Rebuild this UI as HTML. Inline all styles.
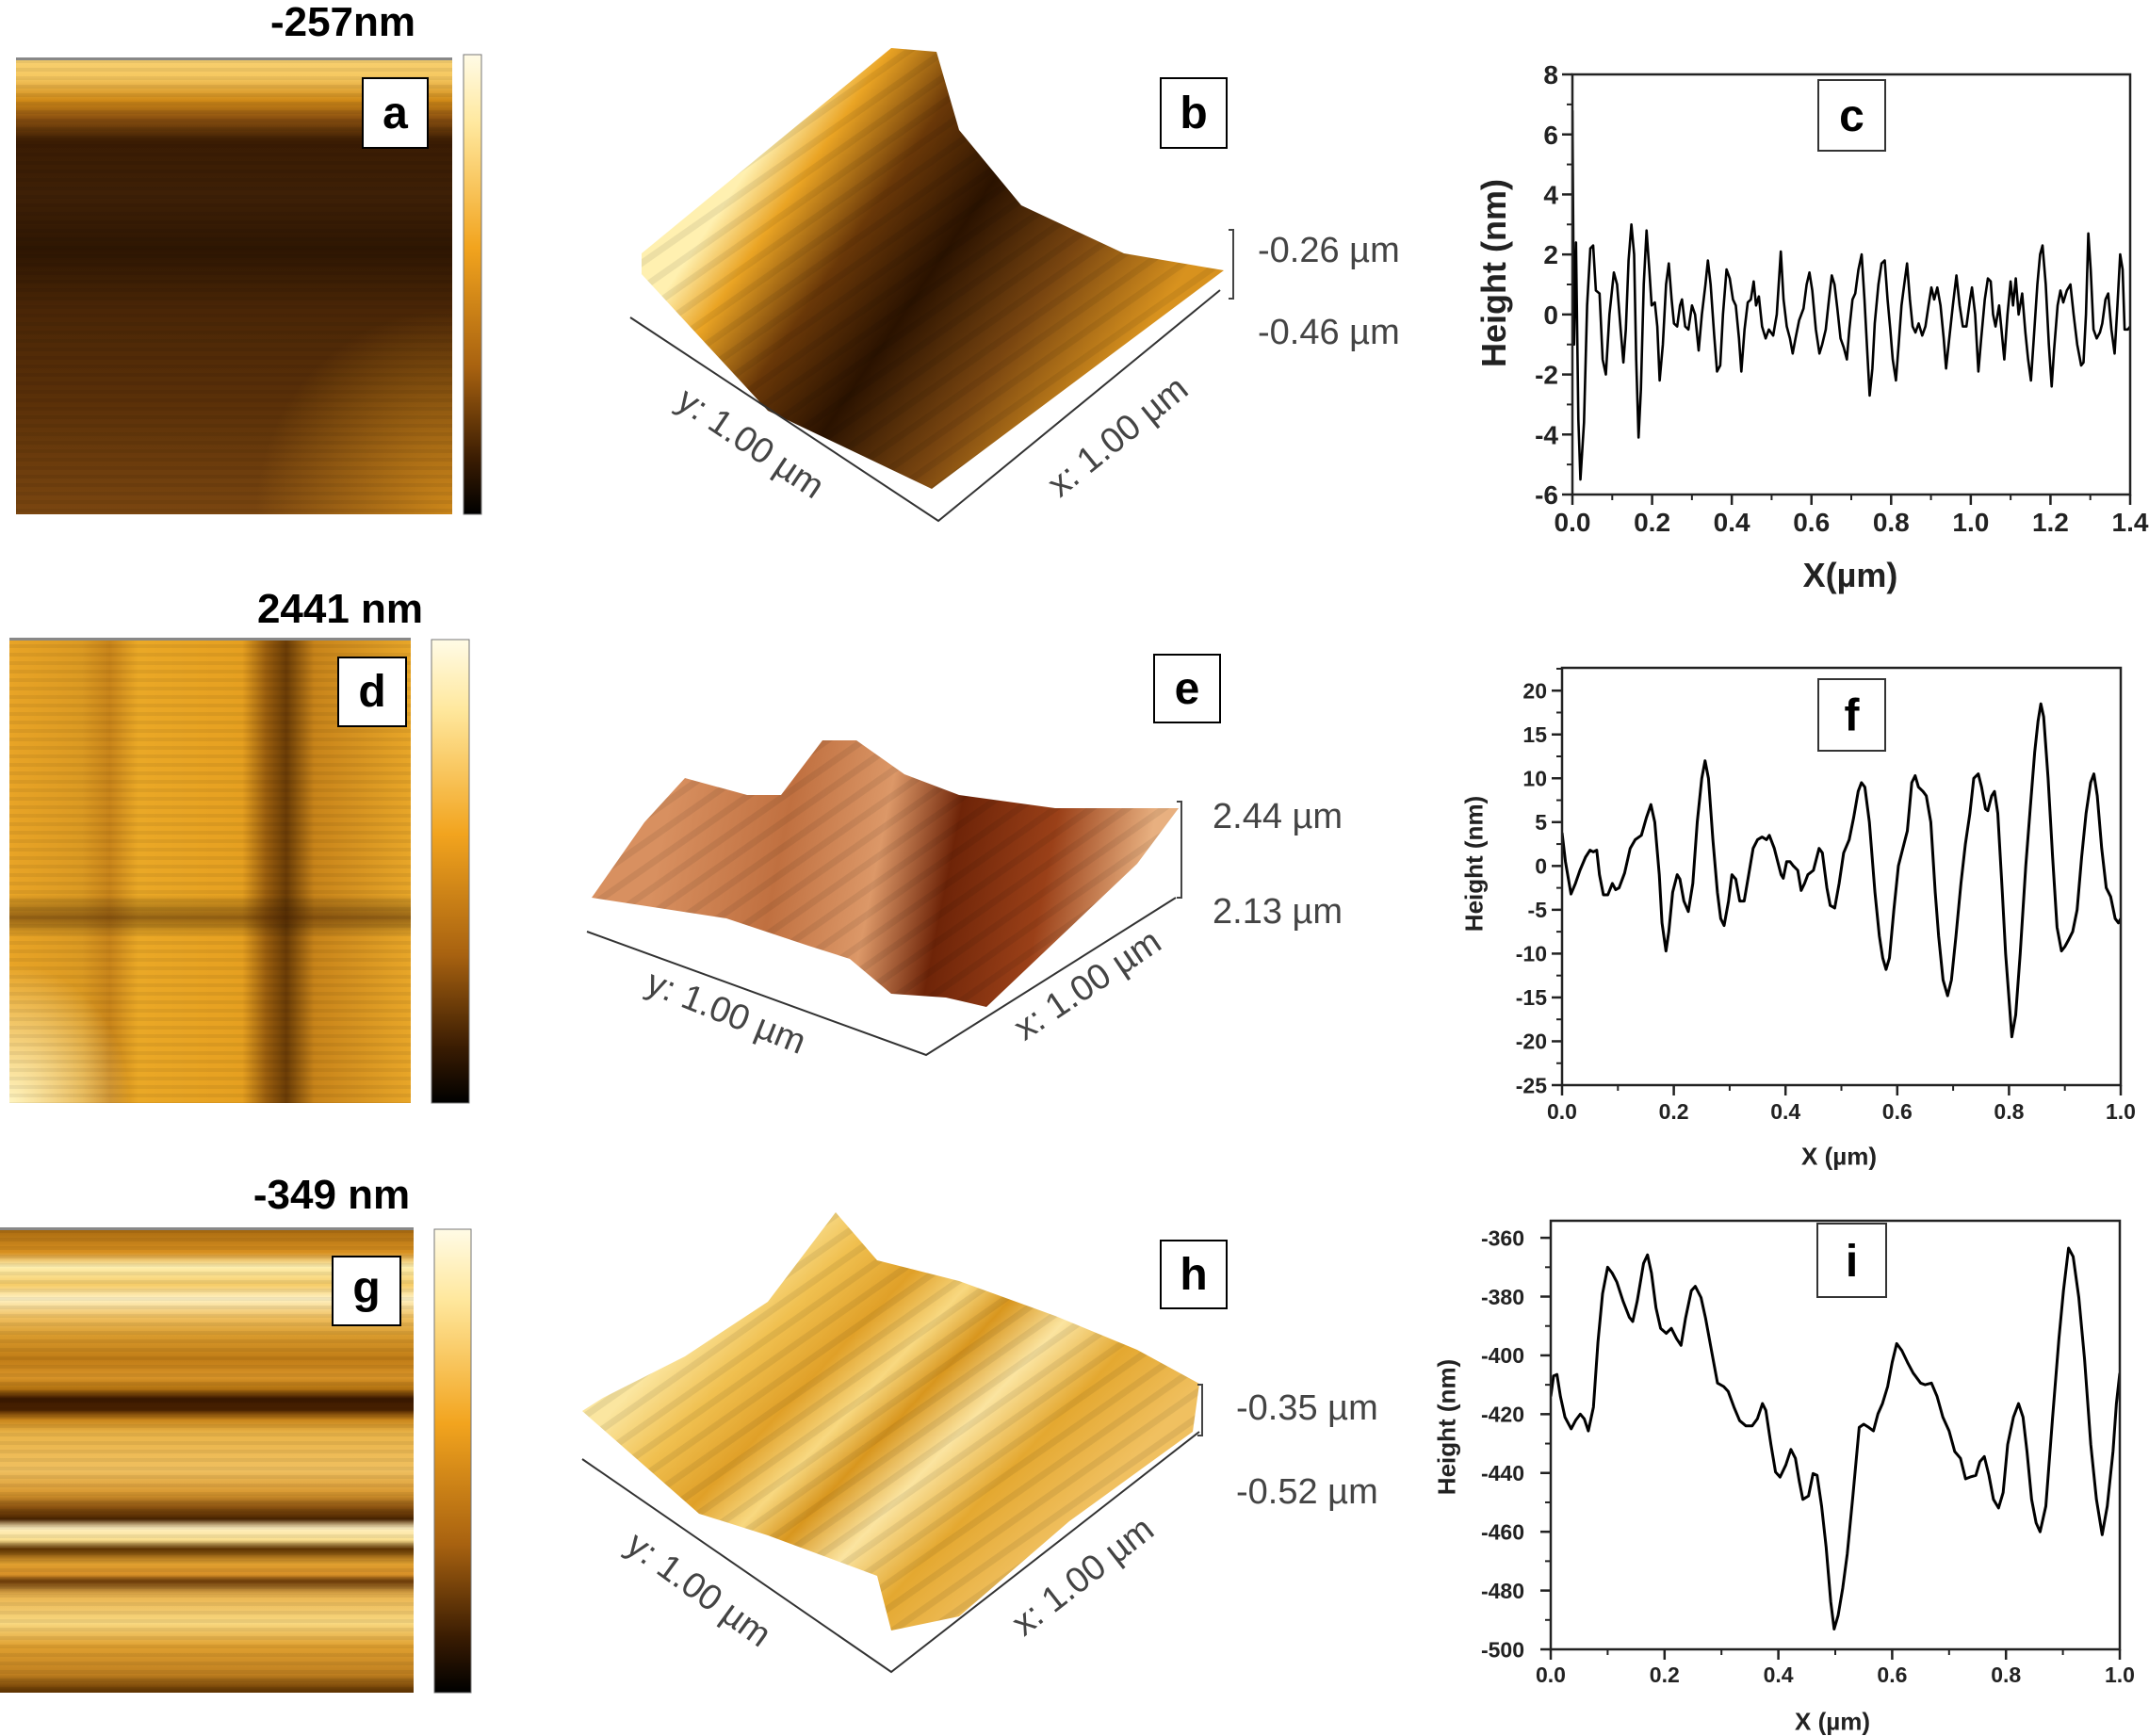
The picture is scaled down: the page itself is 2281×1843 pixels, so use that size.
<!DOCTYPE html>
<html><head><meta charset="utf-8"><title>AFM figure</title>
<style>
html,body{margin:0;padding:0;background:#fff;}
svg{display:block;}
text{font-family:"Liberation Sans",Arial,sans-serif;}
</style></head>
<body>
<svg id="fig" width="2281" height="1843" viewBox="0 0 2281 1843" xmlns="http://www.w3.org/2000/svg">
<defs>
  <linearGradient id="cbar" x1="0" y1="0" x2="0" y2="1">
    <stop offset="0" stop-color="#fffbe6"/><stop offset="0.15" stop-color="#ffe89e"/>
    <stop offset="0.42" stop-color="#f2a41e"/><stop offset="0.68" stop-color="#a86210"/>
    <stop offset="0.88" stop-color="#3a1c02"/><stop offset="1" stop-color="#000"/>
  </linearGradient>
  <linearGradient id="gA" x1="0" y1="0" x2="0" y2="1">
    <stop offset="0" stop-color="#f7d070"/><stop offset="0.04" stop-color="#f6c860"/>
    <stop offset="0.09" stop-color="#d08a18"/><stop offset="0.13" stop-color="#8a5010"/>
    <stop offset="0.18" stop-color="#3a1c03"/><stop offset="0.3" stop-color="#3e2006"/>
    <stop offset="0.42" stop-color="#2e1602"/><stop offset="0.55" stop-color="#4a2606"/>
    <stop offset="0.75" stop-color="#5a3008"/><stop offset="1" stop-color="#7a4610"/>
  </linearGradient>
  <radialGradient id="gA2" cx="1" cy="1" r="0.45">
    <stop offset="0" stop-color="#d08a1a" stop-opacity="0.95"/><stop offset="1" stop-color="#d08a1a" stop-opacity="0"/>
  </radialGradient>
  <linearGradient id="gD" x1="0" y1="0" x2="1" y2="0">
    <stop offset="0" stop-color="#e8a426"/><stop offset="0.18" stop-color="#dc9a22"/>
    <stop offset="0.25" stop-color="#c8841a"/><stop offset="0.32" stop-color="#eaa826"/>
    <stop offset="0.58" stop-color="#e6a020"/><stop offset="0.64" stop-color="#9a5e0e"/>
    <stop offset="0.69" stop-color="#6a3c06"/><stop offset="0.76" stop-color="#c8841a"/>
    <stop offset="1" stop-color="#e8a628"/>
  </linearGradient>
  <linearGradient id="gDh" x1="0" y1="0" x2="0" y2="1">
    <stop offset="0" stop-color="#000" stop-opacity="0"/><stop offset="0.55" stop-color="#000" stop-opacity="0"/>
    <stop offset="0.6" stop-color="#3a1800" stop-opacity="0.45"/><stop offset="0.64" stop-color="#000" stop-opacity="0"/>
    <stop offset="1" stop-color="#000" stop-opacity="0"/>
  </linearGradient>
  <radialGradient id="gD2" cx="0" cy="1" r="0.3">
    <stop offset="0" stop-color="#fff4c0"/><stop offset="1" stop-color="#fff4c0" stop-opacity="0"/>
  </radialGradient>
  <linearGradient id="gG" x1="0" y1="0" x2="0" y2="1">
    <stop offset="0" stop-color="#a86a10"/><stop offset="0.05" stop-color="#d89020"/>
    <stop offset="0.08" stop-color="#fff0b0"/><stop offset="0.12" stop-color="#f6cc68"/>
    <stop offset="0.15" stop-color="#fff2c4"/><stop offset="0.19" stop-color="#f0c060"/>
    <stop offset="0.23" stop-color="#d89a2c"/><stop offset="0.28" stop-color="#c07c16"/>
    <stop offset="0.32" stop-color="#d89428"/><stop offset="0.345" stop-color="#b07010"/>
    <stop offset="0.365" stop-color="#3a1800"/><stop offset="0.39" stop-color="#4a2200"/>
    <stop offset="0.41" stop-color="#c8841a"/><stop offset="0.44" stop-color="#eab448"/>
    <stop offset="0.52" stop-color="#f0c060"/><stop offset="0.57" stop-color="#d89830"/>
    <stop offset="0.6" stop-color="#8a5210"/><stop offset="0.625" stop-color="#4a2400"/>
    <stop offset="0.645" stop-color="#fff0c0"/><stop offset="0.67" stop-color="#fbe090"/>
    <stop offset="0.69" stop-color="#5a3000"/><stop offset="0.72" stop-color="#e0a030"/>
    <stop offset="0.745" stop-color="#d89028"/><stop offset="0.76" stop-color="#6a3a08"/>
    <stop offset="0.79" stop-color="#eab450"/><stop offset="0.85" stop-color="#f8d880"/>
    <stop offset="0.9" stop-color="#e0a030"/><stop offset="0.96" stop-color="#c08020"/>
    <stop offset="1" stop-color="#5a3000"/>
  </linearGradient>
  <pattern id="stripes" width="8" height="9" patternUnits="userSpaceOnUse">
    <rect width="8" height="4" fill="#000" fill-opacity="0.06"/>
  </pattern>
  <linearGradient id="gB" gradientUnits="userSpaceOnUse" x1="800" y1="170" x2="1170" y2="420">
    <stop offset="0" stop-color="#fff0b0"/><stop offset="0.12" stop-color="#eaa424"/>
    <stop offset="0.3" stop-color="#6a3808"/><stop offset="0.5" stop-color="#2a1200"/>
    <stop offset="0.75" stop-color="#7a4610"/><stop offset="1" stop-color="#d8921e"/>
  </linearGradient>
  <linearGradient id="gE" gradientUnits="userSpaceOnUse" x1="700" y1="900" x2="1200" y2="1000">
    <stop offset="0" stop-color="#d89060"/><stop offset="0.25" stop-color="#c07040"/>
    <stop offset="0.45" stop-color="#dc9868"/><stop offset="0.6" stop-color="#6e2408"/>
    <stop offset="0.8" stop-color="#9a4018"/><stop offset="1" stop-color="#e8b080"/>
  </linearGradient>
  <linearGradient id="gH" gradientUnits="userSpaceOnUse" x1="760" y1="1380" x2="1080" y2="1680">
    <stop offset="0" stop-color="#fbe6a0"/><stop offset="0.15" stop-color="#f0c050"/>
    <stop offset="0.3" stop-color="#e0a028"/><stop offset="0.42" stop-color="#f8d880"/>
    <stop offset="0.52" stop-color="#d8961e"/><stop offset="0.65" stop-color="#fbe4a0"/>
    <stop offset="0.8" stop-color="#e4a830"/><stop offset="1" stop-color="#f0c060"/>
  </linearGradient>
  <pattern id="diag" width="22" height="22" patternUnits="userSpaceOnUse" patternTransform="rotate(-35)">
    <rect width="22" height="7" fill="#000" fill-opacity="0.07"/>
  </pattern>
</defs>

<!-- Row 1 -->
<text x="364" y="38" font-size="44" font-weight="bold" text-anchor="middle">-257nm</text>
<g>
  <rect x="17" y="63" width="463" height="483" fill="url(#gA)"/>
  <rect x="17" y="63" width="463" height="483" fill="url(#gA2)"/>
  <rect x="17" y="63" width="463" height="483" fill="url(#stripes)"/>
  <rect x="17" y="61" width="463" height="3" fill="#888"/>
</g>
<rect x="492" y="58" width="19" height="488" fill="url(#cbar)" stroke="#777" stroke-width="1"/>
<g><rect x="385" y="83" width="69" height="74" fill="#fff" stroke="#000" stroke-width="2"/><text x="419.5" y="136" font-size="48" font-weight="bold" text-anchor="middle">a</text></g>

<g>
  <polygon points="681,269 946,51 994,55 1018,138 1084,218 1193,269 1299,287 989,519 815,436 681,291" fill="url(#gB)"/>
  <polygon points="681,269 946,51 994,55 1018,138 1084,218 1193,269 1299,287 989,519 815,436 681,291" fill="url(#diag)"/>
  <polyline points="669,337 996,553 1295,308" fill="none" stroke="#333" stroke-width="2"/>
  <polyline points="1304,244 1309,244 1309,317 1304,317" fill="none" stroke="#444" stroke-width="2"/>
  <text x="1335" y="278" font-size="38" fill="#444">-0.26 µm</text>
  <text x="1335" y="365" font-size="38" fill="#444">-0.46 µm</text>
  <text transform="translate(797,470) rotate(34)" font-size="38" fill="#444" text-anchor="middle" dy="13">y: 1.00 µm</text>
  <text transform="translate(1186,463) rotate(-39)" font-size="38" fill="#444" text-anchor="middle" dy="13">x: 1.00 µm</text>
</g>
<g><rect x="1232" y="83" width="70" height="74" fill="#fff" stroke="#000" stroke-width="2"/><text x="1267" y="136" font-size="48" font-weight="bold" text-anchor="middle">b</text></g>

<!-- Row 2 -->
<text x="361" y="661" font-size="44" font-weight="bold" text-anchor="middle">2441 nm</text>
<g>
  <rect x="10" y="679" width="426" height="492" fill="url(#gD)"/>
  <rect x="10" y="679" width="426" height="492" fill="url(#gDh)"/>
  <rect x="10" y="679" width="426" height="492" fill="url(#gD2)"/>
  <rect x="10" y="679" width="426" height="492" fill="url(#stripes)"/>
  <rect x="10" y="677" width="426" height="3" fill="#888"/>
</g>
<rect x="458" y="679" width="40" height="492" fill="url(#cbar)" stroke="#777" stroke-width="1"/>
<g><rect x="359" y="698" width="72" height="73" fill="#fff" stroke="#000" stroke-width="2"/><text x="395" y="750" font-size="48" font-weight="bold" text-anchor="middle">d</text></g>

<g>
  <polygon points="628,953 684,873 727,826 793,844 829,844 873,786 909,786 960,822 1018,844 1120,858 1251,858 1207,917 1047,1069 1004,1059 946,1055 902,1018 858,1004 771,975" fill="url(#gE)"/>
  <polygon points="628,953 684,873 727,826 793,844 829,844 873,786 909,786 960,822 1018,844 1120,858 1251,858 1207,917 1047,1069 1004,1059 946,1055 902,1018 858,1004 771,975" fill="url(#diag)"/>
  <polyline points="623,989 983,1120 1248,953" fill="none" stroke="#333" stroke-width="2"/>
  <polyline points="1249,851 1254,851 1254,953 1249,953" fill="none" stroke="#444" stroke-width="2"/>
  <text x="1287" y="879" font-size="38" fill="#444">2.44 µm</text>
  <text x="1287" y="980" font-size="38" fill="#444">2.13 µm</text>
  <text transform="translate(771,1074) rotate(22)" font-size="38" fill="#444" text-anchor="middle" dy="13">y: 1.00 µm</text>
  <text transform="translate(1154,1045) rotate(-34)" font-size="38" fill="#444" text-anchor="middle" dy="13">x: 1.00 µm</text>
</g>
<g><rect x="1225" y="695" width="70" height="72" fill="#fff" stroke="#000" stroke-width="2"/><text x="1260" y="747" font-size="48" font-weight="bold" text-anchor="middle">e</text></g>

<!-- Row 3 -->
<text x="352" y="1283" font-size="44" font-weight="bold" text-anchor="middle">-349 nm</text>
<g>
  <rect x="0" y="1305" width="439" height="492" fill="url(#gG)"/>
  <rect x="0" y="1305" width="439" height="492" fill="url(#stripes)"/>
  <rect x="0" y="1303" width="439" height="3" fill="#888"/>
</g>
<rect x="461" y="1305" width="39" height="492" fill="url(#cbar)" stroke="#777" stroke-width="1"/>
<g><rect x="353" y="1334" width="72" height="73" fill="#fff" stroke="#000" stroke-width="2"/><text x="389" y="1383" font-size="48" font-weight="bold" text-anchor="middle">g</text></g>

<g>
  <polygon points="618,1498 640,1484 727,1440 815,1382 887,1287 931,1338 1018,1360 1120,1397 1207,1433 1273,1469 1266,1520 1135,1615 1018,1716 946,1731 931,1673 815,1630 742,1607" fill="url(#gH)"/>
  <polygon points="618,1498 640,1484 727,1440 815,1382 887,1287 931,1338 1018,1360 1120,1397 1207,1433 1273,1469 1266,1520 1135,1615 1018,1716 946,1731 931,1673 815,1630 742,1607" fill="url(#diag)"/>
  <polyline points="618,1549 946,1775 1273,1520" fill="none" stroke="#333" stroke-width="2"/>
  <polyline points="1271,1470 1276,1470 1276,1524 1271,1524" fill="none" stroke="#444" stroke-width="2"/>
  <text x="1312" y="1507" font-size="38" fill="#444">-0.35 µm</text>
  <text x="1312" y="1596" font-size="38" fill="#444">-0.52 µm</text>
  <text transform="translate(742,1687) rotate(36)" font-size="38" fill="#444" text-anchor="middle" dy="13">y: 1.00 µm</text>
  <text transform="translate(1149,1673) rotate(-38)" font-size="38" fill="#444" text-anchor="middle" dy="13">x: 1.00 µm</text>
</g>
<g><rect x="1232" y="1317" width="70" height="72" fill="#fff" stroke="#000" stroke-width="2"/><text x="1267" y="1369" font-size="48" font-weight="bold" text-anchor="middle">h</text></g>

<g id="charts"></g>
</svg>

<script>
// ---- Chart c data ----
var cX = [0,.004,.009,.015,.020,.029,.037,.045,.052,.059,.068,.076,.084,.093,.104,.112,.121,.128,.134,.141,.148,.155,.160,.166,.172,.179,.186,.193,.199,.207,.213,.219,.227,.235,.242,.249,.255,.263,.270,.275,.283,.291,.300,.308,.317,.325,.334,.340,.347,.356,.363,.371,.378,.387,.395,.403,.410,.418,.424,.432,.440,.448,.455,.461,.468,.476,.485,.493,.504,.513,.523,.530,.538,.546,.553,.560,.569,.580,.588,.595,.602,.611,.620,.627,.636,.644,.651,.658,.665,.673,.681,.689,.695,.703,.710,.718,.726,.733,.740,.746,.753,.759,.768,.776,.784,.791,.798,.804,.812,.819,.826,.833,.840,.847,.854,.861,.869,.878,.886,.894,.901,.908,.916,.924,.932,.938,.946,.955,.964,.972,.980,.989,.997,1.003,1.011,1.019,1.026,1.035,1.043,1.050,1.056,1.062,1.071,1.077,1.084,1.092,1.100,1.106,1.113,1.120,1.129,1.137,1.144,1.151,1.158,1.167,1.174,1.180,1.188,1.196,1.203,1.209,1.218,1.225,1.232,1.241,1.250,1.258,1.267,1.277,1.283,1.289,1.295,1.301,1.308,1.316,1.324,1.330,1.338,1.345,1.353,1.361,1.368,1.375,1.381,1.386,1.394,1.400];
var cY = [6.8,-1.0,2.4,-3.5,-5.5,-3.6,0.3,2.2,2.3,0.8,0.7,-1.5,-2.0,0.0,1.4,1.0,-0.5,-1.6,-0.5,1.8,3.0,2.0,-1.5,-4.1,-2.5,1.0,2.8,1.5,0.3,0.4,-0.4,-2.2,-1.0,1.0,1.7,0.5,-0.3,-0.4,0.3,0.5,-0.4,-0.5,0.3,0.0,-1.2,0.0,1.0,1.8,1.0,-0.7,-1.9,-1.7,0.0,1.5,1.2,0.5,0.3,-0.8,-1.9,-0.5,0.4,0.5,1.1,0.3,0.6,-0.4,-0.8,-0.5,-0.7,0.0,2.1,0.5,-0.4,-0.8,-1.3,-0.8,-0.2,0.2,1.0,1.4,0.8,-0.5,-1.3,-1.0,-0.5,0.5,1.3,1.0,0.2,-0.8,-1.1,-1.5,-0.5,0.5,0.7,1.5,2.0,0.5,-1.2,-2.7,-1.8,-0.3,1.0,1.7,1.8,0.5,-0.5,-1.5,-2.2,-1.0,0.3,1.0,1.7,0.5,-0.4,-0.6,-0.3,-0.7,-0.4,0.3,0.9,0.5,0.9,0.3,-0.8,-1.8,-0.8,0.3,1.3,0.3,-0.4,-0.4,0.4,0.9,0.0,-1.9,-0.8,0.5,1.2,1.1,0.0,-0.4,0.3,-0.5,-1.5,0.0,1.1,0.3,1.2,0.0,0.7,-0.6,-1.5,-2.2,-0.8,1.0,2.0,2.3,1.0,-1.0,-2.4,-1.2,0.3,0.8,0.4,0.8,1.0,0.0,-1.0,-1.7,-1.6,0.0,2.7,1.5,-0.5,-0.8,-0.6,-0.3,0.5,0.7,-0.5,-1.3,0.3,2.0,1.5,-0.5,-0.5,-0.4];
var cXTicks = ["0.0","0.2","0.4","0.6","0.8","1.0","1.2","1.4"];
var cYTicks = ["-6","-4","-2","0","2","4","6","8"];

// ---- Chart f data ----
var fX = [0,.006,.016,.024,.032,.042,.050,.056,.062,.067,.074,.082,.090,.096,.102,.112,.122,.131,.142,.151,.159,.166,.174,.179,.186,.191,.198,.206,.211,.218,.226,.234,.242,.250,.256,.262,.270,.278,.284,.290,.298,.304,.311,.318,.326,.334,.342,.350,.358,.366,.371,.380,.386,.392,.396,.402,.408,.414,.422,.428,.434,.440,.450,.456,.460,.466,.474,.480,.488,.496,.504,.514,.522,.530,.536,.542,.550,.560,.568,.574,.580,.586,.594,.602,.612,.618,.626,.632,.638,.646,.652,.660,.668,.674,.682,.690,.697,.705,.714,.722,.730,.737,.745,.751,.758,.762,.769,.774,.780,.788,.794,.801,.805,.812,.820,.830,.838,.846,.852,.857,.862,.870,.878,.886,.894,.900,.906,.914,.922,.930,.938,.946,.952,.958,.966,.974,.982,.990,.996,1.0];
var fY = [3.8,0.5,-3.2,-2.0,-0.5,1.0,1.8,1.6,1.8,-1.0,-3.3,-3.3,-2.0,-2.7,-2.5,-0.8,2.0,3.0,3.5,5.5,7.0,5.0,-1.0,-6.5,-9.7,-7.5,-3.0,-1.0,-1.5,-4.0,-5.2,-2.0,5.0,10.0,12.0,10.0,3.0,-3.0,-6.0,-6.8,-4.0,-1.0,-1.5,-4.0,-4.0,-1.0,2.0,3.0,3.3,3.0,3.5,2.0,0.5,-1.0,-1.4,0.5,0.5,0.0,-0.5,-2.8,-2.0,-1.0,-0.5,1.0,2.0,1.5,-2.5,-4.5,-4.8,-2.0,1.5,3.0,5.5,8.5,9.5,9.0,5.0,-3.0,-8.0,-10.5,-11.8,-10.5,-5.0,0.0,2.5,4.0,9.5,10.3,9.0,8.5,8.0,5.0,-3.0,-8.0,-13.0,-14.8,-13.0,-8.0,-2.0,2.5,6.0,10.0,10.5,9.0,6.5,6.3,8.0,8.5,6.0,-3.0,-10.0,-16.0,-19.5,-17.0,-10.0,0.0,6.5,13.0,16.5,18.5,17.0,10.0,1.0,-7.0,-9.7,-9.2,-8.5,-7.5,-5.0,1.0,6.0,9.5,10.5,8.0,2.0,-2.5,-3.5,-6.0,-6.5,-6.0];
var fXTicks = ["0.0","0.2","0.4","0.6","0.8","1.0"];
var fYTicks = ["-25","-20","-15","-10","-5","0","5","10","15","20"];

// ---- Chart i data ----
var iX = [0,.005,.011,.017,.025,.036,.044,.052,.059,.066,.075,.083,.091,.100,.108,.116,.127,.138,.144,.152,.163,.170,.177,.185,.193,.203,.212,.221,.229,.237,.247,.254,.264,.272,.282,.293,.304,.312,.322,.332,.343,.354,.363,.372,.378,.387,.395,.403,.413,.422,.430,.437,.443,.453,.461,.468,.476,.484,.492,.498,.505,.513,.521,.531,.542,.550,.559,.567,.575,.583,.592,.600,.608,.617,.627,.637,.650,.658,.669,.679,.689,.700,.710,.720,.729,.737,.747,.754,.762,.770,.778,.787,.795,.803,.813,.822,.830,.837,.845,.853,.860,.870,.882,.893,.901,.910,.918,.928,.938,.949,.959,.969,.978,.988,.994,1.0];
var iY = [-414,-407,-406.5,-414,-421,-425,-422,-420,-421.6,-425.7,-417.6,-395.5,-379,-370,-372,-375,-381.5,-387,-388.5,-381.5,-368.7,-365.8,-372,-383.8,-390.8,-392.5,-390.8,-394.3,-396.6,-387.3,-378,-376.5,-380.3,-387.3,-397.8,-409.4,-410.6,-412.3,-417.6,-422.2,-424,-424,-421.6,-416.4,-418.7,-430.3,-439.7,-441.4,-437.3,-432,-435,-443,-449,-447.8,-440.2,-440.8,-451.3,-465.2,-483.8,-493.1,-488.5,-479.2,-467.6,-447.8,-424.5,-423.4,-424.5,-425.7,-419.9,-416.4,-410.6,-402.4,-396,-398.4,-402.4,-406,-409.4,-410,-409.4,-414,-421,-425.7,-432.7,-435,-442,-441.4,-440.8,-436.2,-434.4,-440.8,-449,-451.9,-446.6,-430.3,-421,-416.4,-421,-432.7,-449,-457,-460,-451.3,-421,-394.3,-378,-363.5,-366.4,-380.3,-401.3,-430.3,-449,-461,-451.3,-432.7,-416.4,-406];
var iXTicks = ["0.0","0.2","0.4","0.6","0.8","1.0"];
var iYTicks = ["-500","-480","-460","-440","-420","-400","-380","-360"];

var NS = "http://www.w3.org/2000/svg";
var root = document.getElementById('charts');
function mk(tag, attrs, parent) {
  var e = document.createElementNS(NS, tag);
  for (var k in attrs) e.setAttribute(k, attrs[k]);
  (parent || root).appendChild(e);
  return e;
}
function drawChart(o) {
  var g = mk('g', {});
  
  
  function sx(v) { return o.L + (v - o.x0) / (o.x1 - o.x0) * (o.R - o.L); }
  function sy(v) { return o.B - (v - o.y0) / (o.y1 - o.y0) * (o.B - o.T); }
  var v;
  for (v = o.x0; v <= o.x1 + 1e-9; v += o.xMinor) {
    var mt = mk('line', {x1: sx(v), x2: sx(v), y1: o.B, y2: o.B + 6, stroke: '#222', 'stroke-width': 2}, g);
    
    
  }
  for (v = o.y0; v <= o.y1 + 1e-9; v += o.yMinor) {
    var mty = mk('line', {x1: o.L - 6, x2: o.L, y1: sy(v), y2: sy(v), stroke: '#222', 'stroke-width': 2}, g);
    
    
  }
  o.xTicks.forEach(function (t) {
    var x = sx(parseFloat(t));
    var tl = mk('line', {x1: x, x2: x, y1: o.B, y2: o.B + 11, stroke: '#222', 'stroke-width': 2.5}, g);
    
    
    var tx = mk('text', {x: x, y: o.xTickY, 'font-size': o.tickFs, 'font-weight': 'bold', 'text-anchor': 'middle', fill: '#222'}, g);
    
    
    tx.textContent = t;
  });
  o.yTicks.forEach(function (t) {
    var y = sy(parseFloat(t));
    var tl = mk('line', {x1: o.L - 11, x2: o.L, y1: y, y2: y, stroke: '#222', 'stroke-width': 2.5}, g);
    
    
    var tx = mk('text', {x: o.yTickRight, y: y + o.tickFs * 0.36, 'font-size': o.tickFs, 'font-weight': 'bold', 'text-anchor': 'end', fill: '#222'}, g);
    
    
    tx.textContent = t;
  });
  var d = '';
  for (var i = 0; i < o.xs.length; i++) d += (i ? 'L' : 'M') + sx(o.xs[i]).toFixed(1) + ',' + sy(o.ys[i]).toFixed(1);
  var cp = mk('clipPath', {id: o.name + '-clip'}, g);
  mk('rect', {x: o.L, y: o.T, width: o.R - o.L, height: o.B - o.T}, cp);
  var line = mk('path', {d: d, fill: 'none', stroke: '#000', 'stroke-width': o.lw, 'stroke-linejoin': 'round', 'clip-path': 'url(#' + o.name + '-clip)'}, g);
  
  
  var fr = mk('rect', {x: o.L, y: o.T, width: o.R - o.L, height: o.B - o.T, fill: 'none', stroke: '#222', 'stroke-width': 2.5}, g);
  
  
  var yl = mk('text', {transform: 'translate(' + o.yLab[0] + ',' + o.yLab[1] + ') rotate(-90)', 'font-size': o.labFs, 'font-weight': 'bold', 'text-anchor': 'middle', dy: o.labFs * 0.36, fill: '#222'}, g);
  
  
  yl.textContent = 'Height (nm)';
  var xl = mk('text', {x: o.xLab[0], y: o.xLab[1] + o.labFs * 0.36, 'font-size': o.labFs, 'font-weight': 'bold', 'text-anchor': 'middle', fill: '#222'}, g);
  
  
  xl.textContent = o.xTitle;
  var bx = mk('g', {}, g);
  
  
  mk('rect', {x: o.box[0], y: o.box[1], width: o.box[2], height: o.box[3], fill: '#fff', stroke: '#333', 'stroke-width': 2}, bx);
  var bt = mk('text', {x: o.box[0] + o.box[2] / 2, y: o.box[1] + o.box[3] * 0.72, 'font-size': 48, 'font-weight': 'bold', 'text-anchor': 'middle'}, bx);
  bt.textContent = o.letter;
}
drawChart({name: 'chart-c', letter: 'c', L: 1669, R: 2261, T: 79, B: 525, x0: 0, x1: 1.4, y0: -6, y1: 8,
  xMinor: 0.1, yMinor: 1, xs: cX, ys: cY, xTicks: cXTicks, yTicks: cYTicks, tickFs: 28, xTickY: 564, yTickRight: 1654,
  labFs: 36, yLab: [1585, 290], xLab: [1964, 610], xTitle: 'X(µm)', lw: 2.6, box: [1930, 85, 71, 75]});
drawChart({name: 'chart-f', letter: 'f', L: 1658, R: 2251, T: 709, B: 1152, x0: 0, x1: 1, y0: -25, y1: 22.6,
  xMinor: 0.1, yMinor: 2.5, xs: fX, ys: fY, xTicks: fXTicks, yTicks: fYTicks, tickFs: 23, xTickY: 1188, yTickRight: 1642,
  labFs: 26, yLab: [1564, 917], xLab: [1952, 1227], xTitle: 'X (µm)', lw: 3, box: [1930, 721, 71, 76]});
drawChart({name: 'chart-i', letter: 'i', L: 1646, R: 2250, T: 1296, B: 1751, x0: 0, x1: 1, y0: -500, y1: -354.2,
  xMinor: 0.1, yMinor: 10, xs: iX, ys: iY, xTicks: iXTicks, yTicks: iYTicks, tickFs: 23, xTickY: 1786, yTickRight: 1618,
  labFs: 26, yLab: [1535, 1515], xLab: [1945, 1827], xTitle: 'X (µm)', lw: 3, box: [1929, 1299, 73, 78]});
</script>
</body></html>
